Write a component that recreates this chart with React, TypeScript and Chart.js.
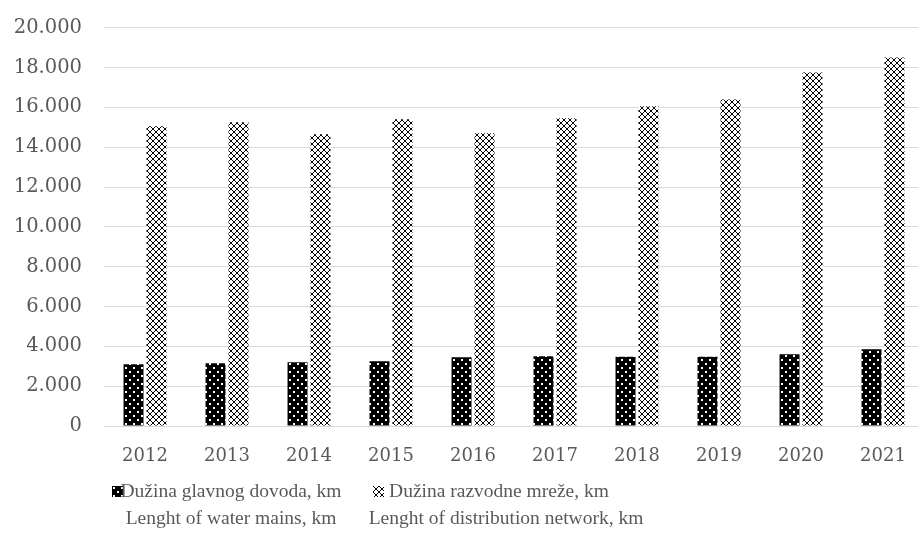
import React, { useEffect, useRef } from "react";
import { Chart, registerables } from "chart.js";

Chart.register(...registerables);

const years = ["2012", "2013", "2014", "2015", "2016", "2017", "2018", "2019", "2020", "2021"];
const waterMains = [3100, 3150, 3200, 3250, 3450, 3500, 3480, 3480, 3600, 3850];
const distribution = [15050, 15250, 14650, 15400, 14700, 15450, 16050, 16400, 17750, 18500];
const seriesLabels1 = ["Dužina glavnog dovoda, km", "Lenght of water mains, km"];
const seriesLabels2 = ["Dužina razvodne mreže, km", "Lenght of distribution network, km"];

const TICK_FONT = "'DejaVu Serif', serif";
const LEGEND_FONT = "'Liberation Serif', serif";
const TEXT = "#595959";

function dotPattern(): CanvasPattern | string {
  const c = document.createElement("canvas");
  c.width = 8;
  c.height = 8;
  const x = c.getContext("2d")!;
  x.fillStyle = "#000";
  x.fillRect(0, 0, 8, 8);
  x.fillStyle = "#fff";
  x.fillRect(1, 1, 2, 2);
  x.fillRect(5, 5, 2, 2);
  const ctx = document.createElement("canvas").getContext("2d")!;
  return ctx.createPattern(c, "repeat") || "#000";
}

function crossPattern(): CanvasPattern | string {
  const c = document.createElement("canvas");
  c.width = 6;
  c.height = 6;
  const x = c.getContext("2d")!;
  x.fillStyle = "#fff";
  x.fillRect(0, 0, 6, 6);
  x.fillStyle = "#000";
  for (let i = 0; i < 6; i++) {
    x.fillRect(i, i, 1, 1);
    x.fillRect(5 - i, i, 1, 1);
  }
  const ctx = document.createElement("canvas").getContext("2d")!;
  return ctx.createPattern(c, "repeat") || "#000";
}

function Swatch({ kind }: { kind: number }) {
  const ref = useRef<HTMLCanvasElement>(null);
  useEffect(() => {
    const ctx = ref.current!.getContext("2d")!;
    ctx.fillStyle = kind === 0 ? (dotPattern() as any) : (crossPattern() as any);
    ctx.fillRect(0, 0, 11, 11);
  }, [kind]);
  return <canvas ref={ref} width={11} height={11} style={{ position: "absolute", left: 0, top: 0 }} />;
}

export default function App() {
  const ref = useRef<HTMLCanvasElement>(null);
  useEffect(() => {
    const chart = new Chart(ref.current!, {
      type: "bar",
      data: {
        labels: years,
        datasets: [
          {
            label: seriesLabels1.join(" "),
            data: waterMains,
            backgroundColor: dotPattern() as any,
            borderWidth: 0,
            categoryPercentage: 0.56,
            barPercentage: 0.87,
          },
          {
            label: seriesLabels2.join(" "),
            data: distribution,
            backgroundColor: crossPattern() as any,
            borderWidth: 0,
            categoryPercentage: 0.56,
            barPercentage: 0.87,
          },
        ],
      },
      options: {
        animation: false,
        responsive: false,
        maintainAspectRatio: false,
        layout: { padding: { top: 18, right: 6, left: 0, bottom: 0 } },
        plugins: { legend: { display: false }, tooltip: { enabled: false } },
        scales: {
          x: {
            grid: { display: false, drawTicks: false },
            border: { display: false },
            ticks: { color: TEXT, font: { family: TICK_FONT, size: 18 }, padding: 20 },
            afterFit: (s: any) => {
              s.height = 44;
            },
          },
          y: {
            min: 0,
            max: 20000,
            grid: { color: "#d9d9d9", lineWidth: 1, drawTicks: false },
            border: { display: false },
            ticks: {
              stepSize: 2000,
              color: TEXT,
              font: { family: TICK_FONT, size: 19.5 },
              padding: 22,
              callback: (v: any) => Number(v).toLocaleString("de-DE"),
            },
            afterFit: (s: any) => {
              s.width = 104;
            },
          },
        },
      },
    });
    return () => chart.destroy();
  }, []);

  const lineStyle: React.CSSProperties = {
    position: "absolute",
    fontFamily: LEGEND_FONT,
    fontSize: 19.5,
    color: TEXT,
    whiteSpace: "nowrap",
    transform: "translateX(-50%)",
    lineHeight: "24px",
  };

  return (
    <div style={{ position: "fixed", left: 0, top: 0, width: 930, height: 547, background: "#fff", overflow: "hidden" }}>
      <canvas ref={ref} width={930} height={476} style={{ position: "absolute", left: 0, top: -6 }} />
      <div style={{ position: "absolute", left: 112, top: 486, width: 11, height: 11 }}>
        <Swatch kind={0} />
      </div>
      <div style={{ ...lineStyle, left: 231, top: 479 }}>{seriesLabels1[0]}</div>
      <div style={{ ...lineStyle, left: 231, top: 506 }}>{seriesLabels1[1]}</div>
      <div style={{ position: "absolute", left: 373, top: 486, width: 11, height: 11 }}>
        <Swatch kind={1} />
      </div>
      <div style={{ ...lineStyle, left: 499, top: 479 }}>{seriesLabels2[0]}</div>
      <div style={{ ...lineStyle, left: 506, top: 506 }}>{seriesLabels2[1]}</div>
    </div>
  );
}
